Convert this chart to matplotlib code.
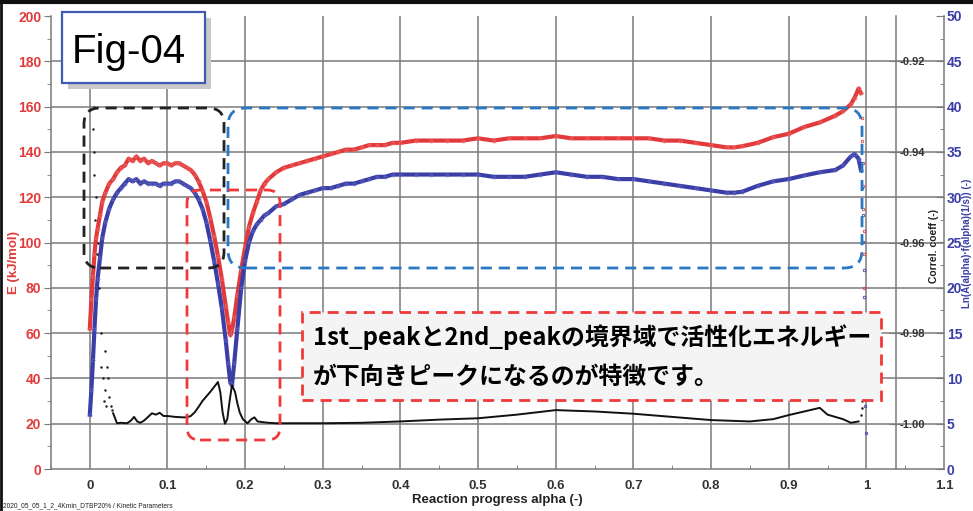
import matplotlib
matplotlib.use("Agg")
import matplotlib.pyplot as plt
from matplotlib.patches import FancyBboxPatch, Rectangle
from matplotlib.lines import Line2D
from matplotlib.ticker import MultipleLocator, FormatStrFormatter

# ---------------- data ----------------
red_alpha = [0.000, 0.002, 0.004, 0.006, 0.008, 0.010, 0.013, 0.016, 0.020, 0.025,
             0.030, 0.035, 0.040, 0.045, 0.050, 0.055, 0.060, 0.065, 0.070, 0.075,
             0.080, 0.085, 0.090, 0.095, 0.100, 0.105, 0.110, 0.115, 0.120, 0.125,
             0.130, 0.135, 0.140, 0.145, 0.150, 0.155, 0.160, 0.165, 0.170, 0.175,
             0.178, 0.181, 0.183, 0.186, 0.190, 0.195, 0.200, 0.205, 0.210, 0.215,
             0.220, 0.225, 0.230, 0.240, 0.250, 0.260, 0.270, 0.280, 0.290, 0.300,
             0.310, 0.320, 0.330, 0.340, 0.350, 0.360, 0.370, 0.380, 0.390, 0.400,
             0.420, 0.440, 0.460, 0.480, 0.500, 0.520, 0.540, 0.560, 0.580, 0.600,
             0.620, 0.640, 0.660, 0.680, 0.700, 0.720, 0.740, 0.760, 0.780, 0.800,
             0.820, 0.830, 0.840, 0.860, 0.880, 0.900, 0.920, 0.940, 0.960, 0.970,
             0.980, 0.985, 0.990, 0.993]
red_E = [62, 75, 85, 95, 102, 106, 112, 118, 122, 126,
         128, 131, 133, 134, 137, 136, 138, 136, 137, 135,
         136, 135, 134, 135, 135, 134, 135, 135, 134, 133,
         132, 130, 127, 123, 118, 111, 103, 94, 84, 72,
         65, 59, 61, 67, 77, 88, 98, 107, 113, 118,
         123, 126, 128, 131, 133, 134, 135, 136, 137, 138,
         139, 140, 141, 141, 142, 143, 143, 143, 144, 144,
         145, 145, 145, 145, 146, 145, 146, 146, 146, 147,
         146, 146, 146, 146, 146, 146, 145, 145, 144, 143,
         142, 142, 142.5, 144, 146.5, 148, 151, 153, 156, 158,
         161, 164, 168, 166]

blue_alpha = red_alpha
blue_lnA = [6.0, 8.75, 12.0, 15.5, 18.75, 21.0, 23.25, 25.5, 27.25, 28.75,
            29.75, 30.5, 31.0, 31.5, 32.0, 31.75, 32.0, 31.5, 31.75, 31.5,
            31.5, 31.5, 31.25, 31.5, 31.5, 31.5, 31.75, 31.75, 31.5, 31.25,
            31.0, 30.5, 29.75, 28.75, 27.25, 25.25, 23.0, 20.5, 17.75, 14.25,
            11.75, 9.5, 9.25, 11.75, 15.5, 20.0, 23.0, 25.0, 26.25, 27.0,
            27.5, 28.0, 28.25, 29.0, 29.25, 29.75, 30.25, 30.5, 30.75, 31.0,
            31.0, 31.25, 31.5, 31.5, 31.75, 32.0, 32.25, 32.25, 32.5, 32.5,
            32.5, 32.5, 32.5, 32.5, 32.5, 32.25, 32.25, 32.25, 32.5, 32.75,
            32.5, 32.25, 32.25, 32.0, 32.0, 31.75, 31.5, 31.25, 31.0, 30.75,
            30.5, 30.5, 30.6, 31.25, 31.75, 32.0, 32.4, 32.75, 33.0, 33.5,
            34.5, 34.75, 34.25, 33.0]

corr_alpha = [0.030, 0.035, 0.040, 0.048, 0.053, 0.057, 0.061, 0.065, 0.070, 0.075,
              0.080, 0.085, 0.090, 0.095, 0.100, 0.110, 0.120, 0.125, 0.130, 0.135,
              0.140, 0.145, 0.150, 0.155, 0.160, 0.165, 0.168, 0.171, 0.174, 0.177,
              0.180, 0.183, 0.187, 0.190, 0.193, 0.197, 0.203, 0.208, 0.212, 0.216,
              0.220, 0.230, 0.240, 0.260, 0.300, 0.350, 0.400, 0.450, 0.500, 0.550,
              0.600, 0.650, 0.700, 0.750, 0.800, 0.850, 0.880, 0.900, 0.920, 0.940,
              0.950, 0.960, 0.970, 0.980, 0.990]
corr_coeff = [-0.9977, -0.9999, -0.9998, -0.9999, -0.9993, -0.9985, -0.9995, -0.9998, -0.9993, -0.9985,
              -0.9977, -0.9980, -0.9976, -0.9983, -0.9983, -0.9985, -0.9986, -0.9986, -0.9983, -0.9975,
              -0.9963, -0.9950, -0.9940, -0.9930, -0.9919, -0.9908, -0.9930, -0.9975, -1.0000, -0.9990,
              -0.9950, -0.9915, -0.9930, -0.9955, -0.9975, -0.9990, -0.9999, -0.9990, -0.9986, -0.9995,
              -0.9996, -0.9998, -0.9999, -0.9999, -0.9999, -0.9998, -0.9995, -0.9991, -0.9988, -0.9980,
              -0.9970, -0.9973, -0.9978, -0.9985, -0.9992, -0.9995, -0.9990, -0.9981, -0.9973, -0.9965,
              -0.9980, -0.9985, -0.9990, -0.9998, -0.9995]

# sparse scattered points at the start and the end of the run
corr_early_alpha = [0.004, 0.005, 0.005, 0.006, 0.007, 0.008, 0.009, 0.010, 0.012, 0.014,
                    0.015, 0.017, 0.018, 0.019, 0.020, 0.021, 0.022, 0.024, 0.025, 0.027, 0.028]
corr_early_coeff = [-0.935, -0.930, -0.945, -0.940, -0.955, -0.950, -0.9625, -0.960, -0.970, -0.980,
                    -0.9875, -0.990, -0.995, -0.984, -0.9925, -0.996, -0.9875, -0.990, -0.994, -0.996, -0.997]
corr_tail_alpha = [0.993, 0.994, 0.995, 0.996, 0.997]
corr_tail_coeff = [-0.998, -0.9965, -0.995, -0.9935, -0.992]
red_tail_alpha = [0.995, 0.995, 0.996, 0.996, 0.996, 0.997, 0.997, 0.997, 0.998]
red_tail_E = [155, 145, 135, 125, 115, 105, 95, 80, 65]
blue_tail_alpha = [0.995, 0.996, 0.996, 0.997, 0.997, 0.997, 0.998, 0.998, 0.998, 0.999]
blue_tail_lnA = [31, 28, 25, 22, 19, 16, 13, 10, 7, 4]

x_ticks = [0, 0.1, 0.2, 0.3, 0.4, 0.5, 0.6, 0.7, 0.8, 0.9, 1, 1.1]
x_tick_labels = ["0", "0.1", "0.2", "0.3", "0.4", "0.5", "0.6", "0.7", "0.8", "0.9", "1", "1.1"]
corr_ticks = [-1.00, -0.98, -0.96, -0.94, -0.92]

# ---------------- styling ----------------
RED = "#e23a3a"
BLUE = "#3a3ea6"
GRID = "#7a7a7a"
LAB = "Liberation Sans"
W, H = 973, 511

plt.rcParams["font.family"] = [LAB, "DejaVu Sans"]

fig = plt.figure(figsize=(W / 100, H / 100), dpi=100)
fig.patch.set_facecolor("white")

L, R, T, B = 51, 944, 16, 469
ax = fig.add_axes([L / W, 1 - B / H, (R - L) / W, (B - T) / H])
ax.set_xlim(-0.05, 1.1)
ax.set_ylim(0, 200)

# grid
for gx in x_ticks[:-1]:
    ax.axvline(gx, color=GRID, lw=1.1, zorder=0)
for gy in range(20, 200, 20):
    ax.axhline(gy, color=GRID, lw=1.1, zorder=0)

for s in ["top", "right"]:
    ax.spines[s].set_visible(False)
for s in ["left", "bottom"]:
    ax.spines[s].set_color(GRID)
    ax.spines[s].set_linewidth(1.1)

ax.set_xticks(x_ticks)
ax.set_xticklabels(x_tick_labels)
ax.xaxis.set_minor_locator(MultipleLocator(0.05))
ax.tick_params(axis="x", which="major", length=0, pad=8, labelsize=9.5,
               labelcolor="#333333")
ax.tick_params(axis="x", which="minor", length=3, direction="in", color=GRID)
ax.yaxis.set_major_locator(MultipleLocator(20))
ax.yaxis.set_minor_locator(MultipleLocator(10))
ax.tick_params(axis="y", which="major", length=5, color=GRID, labelcolor=RED,
               labelsize=10, pad=2)
ax.tick_params(axis="y", which="minor", length=3, color=GRID)
for lab in ax.get_xticklabels() + ax.get_yticklabels():
    lab.set_fontweight("bold")

ax.set_xlabel("Reaction progress alpha (-)", fontsize=9.5, fontweight="bold",
              color="#222222", labelpad=1)
fig.text(14 / W, 1 - 262 / H, "E (kJ/mol)", rotation=90, ha="center", va="center",
         fontsize=9.5, fontweight="bold", color=RED)

# red series
ax.plot(red_alpha, red_E, color=RED, lw=3.0, solid_joinstyle="round", zorder=3)
ax.plot(red_alpha, red_E, ls="none", marker="o", ms=2.2, mfc="none", mec="#f07070",
        mew=0.5, zorder=3)
ax.plot(red_tail_alpha, red_tail_E, ls="none", marker="o", ms=1.8, mfc="none",
        mec=RED, mew=0.6, zorder=3)

# blue axis
ax2 = ax.twinx()
ax2.set_ylim(0, 50)
ax2.plot(blue_alpha, blue_lnA, color=BLUE, lw=3.0, solid_joinstyle="round", zorder=3)
ax2.plot(blue_alpha, blue_lnA, ls="none", marker="o", ms=2.2, mfc="none",
         mec="#6a6ec6", mew=0.5, zorder=3)
ax2.plot(blue_tail_alpha, blue_tail_lnA, ls="none", marker="o", ms=1.8, mfc="none",
         mec=BLUE, mew=0.6, zorder=3)
for s in ["top", "left", "bottom"]:
    ax2.spines[s].set_visible(False)
ax2.spines["right"].set_color(GRID)
ax2.spines["right"].set_linewidth(1.1)
ax2.yaxis.set_major_locator(MultipleLocator(5))
ax2.yaxis.set_minor_locator(MultipleLocator(2.5))
ax2.tick_params(axis="y", which="major", direction="in", length=6, color=GRID,
                labelcolor=BLUE, labelsize=10, pad=2)
ax2.tick_params(axis="y", which="minor", direction="in", length=3, color=GRID)
for lab in ax2.get_yticklabels():
    lab.set_fontweight("bold")

# correlation axis
ax3 = ax.twinx()
ax3.set_ylim(-1.01, -0.91)
ax3.spines["right"].set_position(("axes", (1.038 + 0.05) / 1.15))
ax3.spines["right"].set_color(GRID)
ax3.spines["right"].set_linewidth(1.1)
for s in ["top", "left", "bottom"]:
    ax3.spines[s].set_visible(False)
ax3.set_yticks(corr_ticks)
ax3.yaxis.set_major_formatter(FormatStrFormatter("%.2f"))
ax3.tick_params(axis="y", direction="inout", length=10, color=GRID,
                labelcolor="#333333", labelsize=8, pad=-2)
for lab in ax3.get_yticklabels():
    lab.set_fontweight("bold")
ax3.plot(corr_alpha, corr_coeff, color="#111111", lw=1.4, zorder=3)
ax3.plot(corr_early_alpha, corr_early_coeff, ls="none", marker=".", ms=1.6,
         color="#222222")
ax3.plot(corr_tail_alpha, corr_tail_coeff, ls="none", marker=".", ms=1.6,
         color="#222222")

fig.text(934 / W, 1 - 246 / H, "Correl. coeff (-)", rotation=90, ha="center",
         va="center", fontsize=7.5, fontweight="bold", color="#222222")
fig.text(967.5 / W, 1 - 243 / H, "Ln(A(alpha)·f(alpha)(1/s)) (-)", rotation=90,
         ha="center", va="center", fontsize=7, fontweight="bold", color=BLUE)

# ---------------- annotation boxes (pixel layout) ----------------
tr = fig.dpi_scale_trans


def pbox(x0, y0, x1, y1, r, **kw):
    p = FancyBboxPatch((x0 / 100, (H - y1) / 100), (x1 - x0) / 100, (y1 - y0) / 100,
                       boxstyle=f"round,pad=0,rounding_size={r / 100}",
                       transform=tr, **kw)
    fig.patches.append(p)
    return p


dash = (0, (4, 2.5))
pbox(84, 108, 224, 268, 16, fill=False, ec="#222222", lw=2.0, ls=dash, zorder=6)
pbox(228, 108, 862, 268, 18, fill=False, ec="#2a78c4", lw=2.0, ls=dash, zorder=6)
pbox(187, 190, 280, 440, 13, fill=False, ec="#f03a3a", lw=2.0, ls=dash, zorder=6)

# explanation box
fig.patches.append(Rectangle((302 / 100, (H - 400) / 100), (881 - 302) / 100,
                             (400 - 312) / 100, transform=tr, fc="#f3f4f3",
                             ec="#f03a3a", lw=2.0, ls=dash, zorder=7))
jp = ["Noto Sans CJK JP", "DejaVu Sans"]
fig.text(313 / W, 1 - 337 / H, "1st_peakと2nd_peakの境界域で活性化エネルギー",
         family=jp, fontsize=17.2, fontweight="bold", va="center", ha="left",
         zorder=8)
fig.text(313 / W, 1 - 377 / H, "が下向きピークになるのが特徴です。",
         family=jp, fontsize=17.2, fontweight="bold", va="center", ha="left",
         zorder=8)

# Fig-04 label with shadow
fig.patches.append(Rectangle((68 / 100, (H - 89) / 100), 143 / 100, 71 / 100,
                             transform=tr, fc="#c9c9c9", ec="none", zorder=6))
fig.patches.append(Rectangle((62 / 100, (H - 83) / 100), 143 / 100, 71 / 100,
                             transform=tr, fc="white", ec="#3f5bb0", lw=1.6,
                             zorder=7))
fig.text(72 / W, 1 - 52 / H, "Fig-04", fontsize=29, va="center", ha="left",
         color="black", zorder=8)

# footer + outer frame
fig.text(3 / W, 1 - 506 / H, "2020_05_05_1_2_4Kmin_DTBP20% / Kinetic Parameters",
         fontsize=4.8, color="#222222", va="center", ha="left")
fig.lines.append(Line2D([0, 1], [0.997, 0.997], transform=fig.transFigure,
                        color="#111111", lw=3))
fig.lines.append(Line2D([0.0015, 0.0015], [0, 1], transform=fig.transFigure,
                        color="#111111", lw=2))

fig.savefig("out.png", dpi=100)
